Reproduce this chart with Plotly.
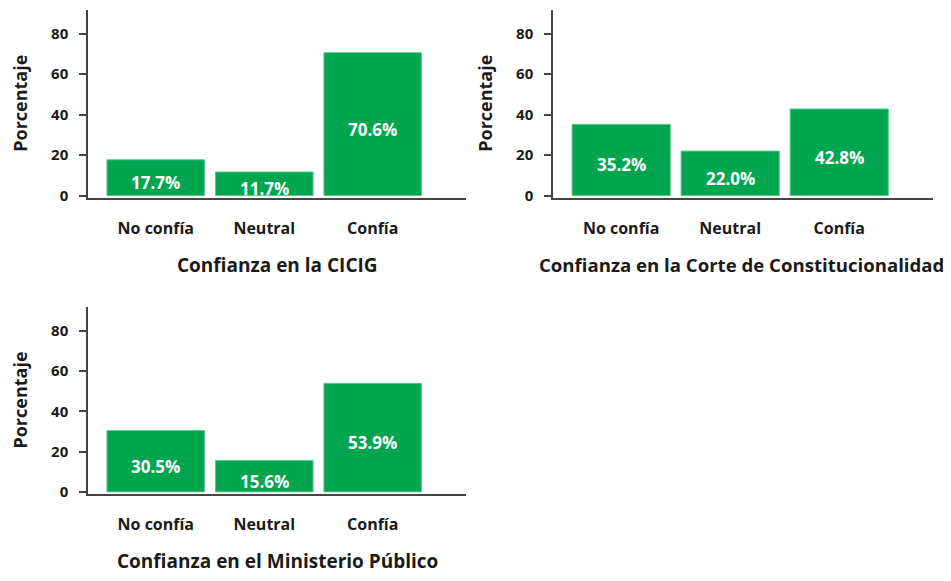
import plotly.graph_objects as go

categories = ["No confía", "Neutral", "Confía"]
cicig = [17.7, 11.7, 70.6]
corte = [35.2, 22.0, 42.8]
ministerio = [30.5, 15.6, 53.9]
titles = ["Confianza en la CICIG", "Confianza en la Corte de Constitucionalidad",
          "Confianza en el Ministerio Público"]
ytick_vals = [0, 20, 40, 60, 80]

OFF = 8  # default page body margin
W, H = 951 - 2 * OFF, 581 - 2 * OFF
GREEN = "#00a54f"
FONT = "Open Sans"

def px_x(p):
    return (p - OFF) / W

def px_y(p):
    return 1 - (p - OFF) / H

panels = [
    dict(vals=cicig, xd=(88, 466), yd=(10, 200), title=titles[0], tsize=19, tx=277),
    dict(vals=corte, xd=(553, 933), yd=(10, 200), title=titles[1], tsize=18.6, tx=741),
    dict(vals=ministerio, xd=(88, 466), yd=(311, 500), title=titles[2], tsize=19, tx=277),
]

fig = go.Figure()
annotations = []
for i, p in enumerate(panels):
    n = "" if i == 0 else str(i + 1)
    fig.add_trace(go.Bar(
        x=categories, y=p["vals"], width=0.9,
        marker=dict(color=GREEN, line=dict(color="#5cc88a", width=1)),
        xaxis="x" + n, yaxis="y" + n, showlegend=False, hoverinfo="skip",
    ))
    for c, v in zip(categories, p["vals"]):
        annotations.append(dict(
            x=c, y=v / 2, xref="x" + n, yref="y" + n, yshift=-5,
            text=f"{v:.1f}%", showarrow=False,
            font=dict(family=FONT, size=17, color="white", weight="bold"),
        ))
    x0, x1 = p["xd"]
    y0, y1 = p["yd"]
    fig.update_layout(**{
        "xaxis" + n: dict(
            domain=[px_x(x0), px_x(x1)], anchor="y" + n,
            range=[-0.625, 2.86], showline=True, linecolor="#444", linewidth=1.5,
            ticks="", showgrid=False, zeroline=False,
            tickfont=dict(family=FONT, size=16, color="#1a1a1a", weight="bold"),
            ticklabelstandoff=15,
        ),
        "yaxis" + n: dict(
            domain=[px_y(y1), px_y(y0)], anchor="x" + n,
            range=[-1, 91.7], showline=True, linecolor="#444", linewidth=1.5,
            ticks="outside", ticklen=7, tickcolor="#444", tickwidth=1.5,
            tickvals=ytick_vals, showgrid=False, zeroline=False,
            tickfont=dict(family=FONT, size=15, color="#1a1a1a", weight="bold"),
            ticklabelstandoff=8,
        ),
    })
    annotations.append(dict(
        x=px_x(p["tx"]), y=px_y(y1 + 68), xref="paper", yref="paper",
        text=p["title"], showarrow=False, xanchor="center", yanchor="middle",
        font=dict(family=FONT, size=p["tsize"], color="#1a1a1a", weight="bold"),
    ))
    annotations.append(dict(
        x=px_x(x0 - 68), y=px_y((y0 + y1) / 2), xref="paper", yref="paper",
        text="Porcentaje", showarrow=False, textangle=-90,
        xanchor="center", yanchor="middle",
        font=dict(family=FONT, size=18, color="#1a1a1a", weight="bold"),
    ))

fig.update_layout(
    width=W, height=H, margin=dict(l=0, r=0, t=0, b=0),
    plot_bgcolor="white", paper_bgcolor="white",
    annotations=annotations, bargap=0.1,
)
fig.write_html("out.html")
